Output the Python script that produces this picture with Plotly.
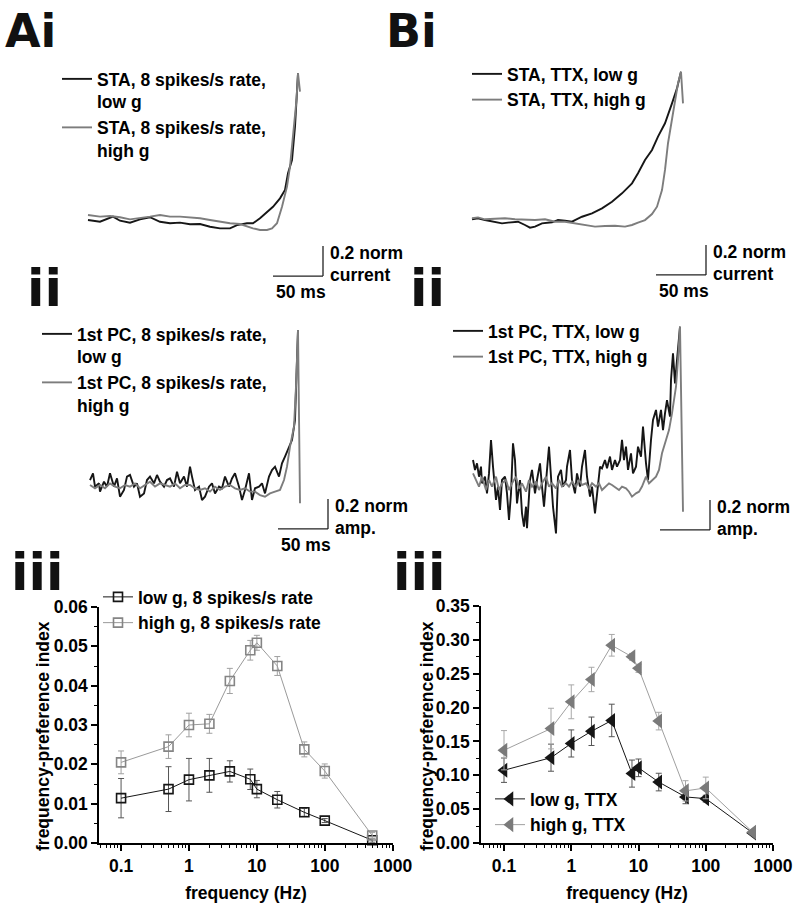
import plotly.graph_objects as go

W, H = 800, 906

# ---------------- data: spike-triggered averages (time in ms rel. to spike, amplitude in norm units)
AI_T_LOW = [-210, -198, -185, -178, -168, -158, -148, -138, -128, -118, -108, -98, -88, -78, -68, -61, -51, -45, -38, -31, -25, -18, -13, -10, -6, -3, 0]
AI_V_LOW = [-0.013, -0.025, 0.009, -0.018, -0.031, -0.009, 0.005, -0.025, -0.035, -0.031, -0.042, -0.04, -0.058, -0.069, -0.069, -0.047, -0.035, -0.035, -0.002, 0.042, 0.075, 0.131, 0.187, 0.298, 0.387, 0.609, 0.964]
AI_T_HIGH = [-210, -198, -188, -178, -168, -158, -148, -138, -128, -118, -108, -98, -88, -78, -68, -58, -51, -45, -38, -31, -26, -21, -16, -11, -8, -5, -1.5, 0, 2]
AI_V_HIGH = [0.02, 0.009, 0.013, 0.005, -0.009, -0.002, 0.009, 0.02, 0.009, 0.009, 0.005, -0.002, -0.013, -0.025, -0.035, -0.04, -0.058, -0.069, -0.08, -0.08, -0.069, -0.035, 0.075, 0.209, 0.342, 0.542, 0.787, 0.964, 0.842]

BI_T_LOW = [-209, -203, -196, -186, -179, -173, -163, -156, -151, -146, -139, -129, -123, -116, -109, -106, -99, -89, -79, -69, -59, -49, -43, -36, -29, -23, -16, -9, -4, 0]
BI_V_LOW = [-0.002, 0.005, -0.007, -0.018, -0.029, -0.024, -0.018, -0.04, -0.058, -0.051, -0.029, -0.022, -0.007, -0.011, -0.018, -0.007, 0.015, 0.038, 0.071, 0.115, 0.171, 0.238, 0.305, 0.393, 0.46, 0.549, 0.638, 0.771, 0.871, 0.982]
BI_T_HIGH = [-209, -203, -196, -186, -176, -166, -156, -146, -136, -126, -116, -106, -96, -86, -76, -66, -56, -49, -43, -36, -29, -24, -19, -16, -13, -9, -6, -3, 0, 2]
BI_V_HIGH = [0.005, 0.011, -0.002, 0.002, 0.005, -0.002, -0.007, -0.007, -0.002, -0.018, -0.018, -0.029, -0.04, -0.051, -0.047, -0.045, -0.051, -0.04, -0.024, -0.007, 0.033, 0.082, 0.193, 0.327, 0.505, 0.66, 0.793, 0.905, 0.982, 0.771]

# ---------------- data: first principal components
AII_T_LOW = [-208, -205, -203, -199, -198, -194, -191, -188, -184, -181, -178, -174, -171, -168, -164, -161, -158, -154, -151, -148, -144, -141, -138, -134, -131, -128, -124, -121, -118, -114, -111, -108, -106, -103, -99, -96, -93, -89, -86, -83, -79, -76, -73, -69, -66, -63, -59, -56, -53, -49, -46, -43, -39, -36, -33, -29, -26, -23, -19, -16, -13, -9, -6, -3, 0]
AII_V_LOW = [0.033, 0.078, -0.011, 0.011, -0.044, 0.022, -0.011, 0.078, -0.011, 0.044, -0.078, -0.033, 0.056, 0.067, -0.011, 0.011, -0.078, -0.056, 0.033, 0.056, 0.011, 0.067, 0.022, -0.011, 0.033, 0.044, -0.011, 0.089, 0.011, 0.056, -0.011, 0.122, 0.056, -0.033, -0.011, -0.1, -0.078, -0.011, 0.011, -0.056, -0.011, -0.022, 0.056, -0.011, 0.044, 0.078, -0.011, -0.1, -0.033, 0.078, -0.1, -0.022, -0.011, 0.011, -0.056, 0.056, 0.1, 0.122, 0.056, 0.144, 0.189, 0.256, 0.3, 0.433, 1.033]
AII_T_HIGH = [-208, -203, -198, -193, -188, -183, -178, -173, -168, -163, -158, -153, -148, -143, -138, -133, -128, -123, -118, -113, -108, -103, -98, -93, -88, -83, -78, -73, -68, -63, -58, -53, -48, -43, -38, -33, -28, -23, -18, -14, -11, -8, -4, -2, 0, 2]
AII_V_HIGH = [0.0, -0.022, 0.0, -0.022, 0.011, -0.011, -0.022, 0.0, -0.011, 0.011, -0.022, 0.0, 0.022, -0.011, 0.011, 0.0, -0.011, 0.011, -0.022, 0.0, 0.0, -0.022, -0.033, -0.022, -0.044, -0.011, -0.033, -0.011, 0.0, -0.022, -0.033, -0.022, -0.044, -0.044, -0.067, -0.078, -0.056, -0.044, -0.033, 0.033, 0.122, 0.256, 0.389, 0.656, 1.033, -0.122]

BII_T_LOW = [-207, -205, -203, -201, -199, -198, -195, -193, -191, -189, -187, -184, -182, -180, -178, -175, -173, -171, -169, -167, -165, -163, -160, -158, -156, -154, -153, -150, -148, -145, -143, -140, -138, -136, -133, -131, -129, -127, -124, -122, -119, -117, -114, -113, -110, -108, -105, -103, -100, -98, -95, -93, -90, -88, -85, -83, -80, -78, -75, -73, -70, -68, -65, -63, -60, -58, -56, -54, -52, -49, -47, -44, -42, -39, -37, -34, -32, -29, -27, -24, -22, -19, -17, -15, -13, -10, -9, -7, -5, -3, 0]
BII_V_LOW = [0.153, 0.087, 0.131, 0.042, 0.109, -0.002, 0.042, -0.069, 0.064, 0.287, 0.109, -0.113, -0.024, -0.18, 0.02, 0.042, -0.069, -0.247, -0.069, 0.264, 0.153, -0.136, 0.02, -0.202, -0.291, -0.158, -0.302, 0.02, 0.087, -0.069, 0.02, 0.131, -0.024, -0.158, 0.087, 0.242, 0.042, -0.158, -0.336, 0.042, 0.087, -0.024, 0.02, 0.109, 0.22, 0.02, -0.069, 0.064, -0.024, 0.109, 0.22, 0.042, -0.091, -0.024, -0.202, -0.069, 0.109, 0.098, 0.153, 0.098, 0.176, 0.087, 0.153, 0.109, 0.153, 0.287, 0.153, 0.242, 0.087, 0.198, 0.064, 0.109, 0.242, 0.176, 0.376, 0.131, 0.02, 0.287, 0.42, 0.487, 0.376, 0.487, 0.353, 0.464, 0.553, 0.442, 0.687, 0.864, 0.664, 0.82, 1.042]
BII_T_HIGH = [-207, -204, -201, -198, -194, -191, -188, -184, -181, -178, -174, -171, -168, -164, -161, -158, -154, -151, -148, -144, -141, -138, -134, -131, -128, -124, -121, -118, -114, -111, -108, -104, -101, -98, -94, -91, -88, -84, -81, -78, -74, -71, -68, -64, -61, -58, -54, -51, -48, -44, -41, -38, -34, -31, -28, -24, -21, -18, -14, -11, -8, -4, -2, 0, 3]
BII_V_HIGH = [0.064, 0.02, -0.024, 0.042, -0.047, 0.02, -0.024, 0.042, -0.047, -0.002, 0.02, -0.047, -0.002, 0.042, -0.036, -0.002, -0.058, 0.02, -0.024, 0.009, -0.047, -0.002, 0.042, -0.024, -0.002, -0.036, 0.02, -0.024, -0.002, -0.024, 0.009, -0.024, 0.02, -0.013, -0.002, -0.036, -0.002, -0.024, -0.002, -0.047, -0.024, -0.002, -0.013, -0.036, -0.047, -0.024, -0.036, -0.058, -0.091, -0.069, -0.058, -0.024, 0.042, -0.002, 0.02, 0.042, 0.087, 0.198, 0.287, 0.353, 0.464, 0.642, 0.82, 1.042, -0.191]

# ---------------- data: frequency-preference index
FREQ = [0.1, 0.5, 1, 2, 4, 8, 10, 20, 50, 100, 500]
A_LOW = [0.0114, 0.0137, 0.0161, 0.0172, 0.0182, 0.0162, 0.0137, 0.0110, 0.0078, 0.0057, 0.0007]
A_LOW_ERR = [0.0050, 0.0057, 0.0054, 0.0043, 0.0027, 0.0026, 0.0022, 0.0021, 0.0010, 0.0005, 0.0005]
A_HIGH = [0.0205, 0.0245, 0.0300, 0.0303, 0.0412, 0.0490, 0.0509, 0.0450, 0.0238, 0.0183, 0.0019]
A_HIGH_ERR = [0.0029, 0.0030, 0.0030, 0.0024, 0.0032, 0.0025, 0.0019, 0.0024, 0.0019, 0.0018, 0.0008]
B_LOW = [0.1075, 0.126, 0.147, 0.165, 0.181, 0.1025, 0.111, 0.090, 0.068, 0.0655, 0.0148]
B_LOW_ERR = [0.018, 0.020, 0.020, 0.021, 0.024, 0.020, 0.013, 0.013, 0.010, 0.005, 0.002]
B_HIGH = [0.137, 0.169, 0.2085, 0.2415, 0.292, 0.275, 0.258, 0.180, 0.077, 0.0813, 0.016]
B_HIGH_ERR = [0.029, 0.030, 0.025, 0.018, 0.016, 0.005, 0.006, 0.013, 0.015, 0.016, 0.002]
FREQ_TICKS = [0.1, 1, 10, 100, 1000]
FREQ_TICKTEXT = ["0.1", "1", "10", "100", "1000"]

SCALE_MS = 50
SCALE_NORM = 0.2

# ---------------- styling
BLACK = "#161616"
GRAY = "#7d7d7d"
FONT = "Liberation Sans, Arial, Helvetica, sans-serif"
HEAVY = "DejaVu Sans, Liberation Sans, sans-serif"
FS = 17.5

fig = go.Figure()


def trace_axes(box, origin, px_ms=1.0, px_unit=150.0):
    x0, x1, y0, y1 = box
    ox, oy = origin
    xa = dict(domain=[x0 / W, x1 / W], range=[(x0 - ox) / px_ms, (x1 - ox) / px_ms],
              visible=False, fixedrange=True, automargin=False)
    ya = dict(domain=[1 - y1 / H, 1 - y0 / H], range=[(oy - y1) / px_unit, (oy - y0) / px_unit],
              visible=False, fixedrange=True, automargin=False)
    return xa, ya


def leg(xpx, ypx):
    return dict(x=xpx / W, y=1 - ypx / H, xanchor="left", yanchor="top",
                bgcolor="rgba(0,0,0,0)", borderwidth=0, valign="top",
                tracegroupgap=0, font=dict(size=FS, family=FONT, color="black", weight="bold"))


layout = dict(
    width=W, height=H, margin=dict(l=0, r=0, t=0, b=0, pad=0, autoexpand=False),
    paper_bgcolor="white", plot_bgcolor="rgba(0,0,0,0)",
    font=dict(family=FONT, size=FS, color="black", weight="bold"),
    showlegend=True,
)

# trace panels (axes 1-4)
panels = [
    ("1", (60, 380, 55, 300), (298, 218)),
    ("2", (440, 780, 55, 300), (681, 219)),
    ("3", (40, 380, 310, 545), (298, 485)),
    ("4", (440, 780, 310, 545), (680, 483)),
]
for k, box, org in panels:
    xa, ya = trace_axes(box, org)
    sx = "" if k == "1" else k
    xa["anchor"] = "y" + sx
    ya["anchor"] = "x" + sx
    layout["xaxis" + sx] = xa
    layout["yaxis" + sx] = ya

trace_sets = [
    ("1", "legend", AI_T_LOW, AI_V_LOW, "STA, 8 spikes/s rate,<br>low g", BLACK),
    ("1", "legend", AI_T_HIGH, AI_V_HIGH, "STA, 8 spikes/s rate,<br>high g", GRAY),
    ("2", "legend2", BI_T_LOW, BI_V_LOW, "STA, TTX, low g", BLACK),
    ("2", "legend2", BI_T_HIGH, BI_V_HIGH, "STA, TTX, high g", GRAY),
    ("3", "legend3", AII_T_LOW, AII_V_LOW, "1st PC, 8 spikes/s rate,<br>low g", BLACK),
    ("3", "legend3", AII_T_HIGH, AII_V_HIGH, "1st PC, 8 spikes/s rate,<br>high g", GRAY),
    ("4", "legend4", BII_T_LOW, BII_V_LOW, "1st PC, TTX, low g", BLACK),
    ("4", "legend4", BII_T_HIGH, BII_V_HIGH, "1st PC, TTX, high g", GRAY),
]
for k, lg, t, v, name, col in trace_sets:
    sx = "" if k == "1" else k
    fig.add_trace(go.Scatter(x=t, y=v, mode="lines", name=name, legend=lg,
                             line=dict(color=col, width=1.9),
                             xaxis="x" + sx, yaxis="y" + sx, hoverinfo="skip"))

# scale bars
shapes = []
annotations = []
scale_bars = [
    ("1", 25, -0.387, "current"),
    ("2", 25, -0.373, "current"),
    ("3", 30, -0.293, "amp."),
    ("4", 30, -0.313, "amp."),
]
for k, ct, cv, lab in scale_bars:
    sx = "" if k == "1" else k
    xr, yr = "x" + sx, "y" + sx
    ln = dict(color="#222222", width=1.3)
    shapes.append(dict(type="line", xref=xr, yref=yr, x0=ct - SCALE_MS, x1=ct, y0=cv, y1=cv, line=ln))
    shapes.append(dict(type="line", xref=xr, yref=yr, x0=ct, x1=ct, y0=cv, y1=cv + SCALE_NORM, line=ln))
    annotations.append(dict(xref=xr, yref=yr, x=ct + 5, y=cv + 23 / 150, text=f"{SCALE_NORM} norm",
                            showarrow=False, xanchor="left", yanchor="middle"))
    annotations.append(dict(xref=xr, yref=yr, x=ct + 5, y=cv + 1 / 150, text=lab,
                            showarrow=False, xanchor="left", yanchor="middle"))
    annotations.append(dict(xref=xr, yref=yr, x=ct - SCALE_MS + 1, y=cv - 16 / 150, text=f"{SCALE_MS} ms",
                            showarrow=False, xanchor="left", yanchor="middle"))

# frequency-preference panels (axes 5, 6)
minor_x = [m * 10 ** e for e in range(-2, 3) for m in range(2, 10)]
minor_x = [v for v in minor_x if 0.045 < v < 1000]


def freq_xaxis(x0, x1, rng, anchor):
    return dict(type="log", domain=[x0 / W, x1 / W], range=rng, anchor=anchor,
                showline=True, linecolor="black", linewidth=1.5, mirror=False,
                ticks="outside", ticklen=6, tickwidth=1.5, tickcolor="black",
                tickmode="array", tickvals=FREQ_TICKS, ticktext=FREQ_TICKTEXT,
                minor=dict(ticks="outside", ticklen=3, tickwidth=1, tickcolor="black",
                           tickmode="array", tickvals=minor_x, showgrid=False),
                showgrid=False, zeroline=False, fixedrange=True, automargin=False,
                tickfont=dict(size=FS),
                title=dict(text="frequency (Hz)", font=dict(size=FS), standoff=12))


def freq_yaxis(y0, y1, top, dt, anchor):
    return dict(domain=[1 - y1 / H, 1 - y0 / H], range=[0, top], anchor=anchor,
                showline=True, linecolor="black", linewidth=1.5, mirror=False,
                ticks="outside", ticklen=6, tickwidth=1.5, tickcolor="black",
                tick0=0, dtick=dt, tickformat=".2f",
                minor=dict(ticks="outside", ticklen=3, tickwidth=1, tickcolor="black",
                           dtick=dt / 2, tick0=0, showgrid=False),
                showgrid=False, zeroline=False, fixedrange=True, automargin=False,
                tickfont=dict(size=FS))


layout["xaxis5"] = freq_xaxis(99, 393, [-1.325, 3.005], "y5")
layout["yaxis5"] = freq_yaxis(607, 843, 0.06, 0.01, "x5")
layout["xaxis6"] = freq_xaxis(481, 773, [-1.342, 3.0], "y6")
layout["yaxis6"] = freq_yaxis(606, 843, 0.35, 0.05, "x6")

# y-axis titles
for xpx in (43, 427):
    annotations.append(dict(xref="paper", yref="paper", x=xpx / W, y=1 - 736 / H,
                            text="frequency-preference index", textangle=-90,
                            showarrow=False, xanchor="center", yanchor="middle",
                            font=dict(size=FS)))

fig.add_trace(go.Scatter(
    x=FREQ, y=A_LOW, name="low g, 8 spikes/s rate", legend="legend5",
    mode="lines+markers", xaxis="x5", yaxis="y5", cliponaxis=False,
    line=dict(color=BLACK, width=1),
    marker=dict(symbol="square-open", size=9, color=BLACK, line=dict(width=1.6, color=BLACK)),
    error_y=dict(type="data", array=A_LOW_ERR, color="#555555", thickness=1, width=3)))
fig.add_trace(go.Scatter(
    x=FREQ, y=A_HIGH, name="high g, 8 spikes/s rate", legend="legend5",
    mode="lines+markers", xaxis="x5", yaxis="y5", cliponaxis=False,
    line=dict(color="#9a9a9a", width=1),
    marker=dict(symbol="square-open", size=9, color="#858585", line=dict(width=1.6, color="#858585")),
    error_y=dict(type="data", array=A_HIGH_ERR, color="#a0a0a0", thickness=1, width=3)))
fig.add_trace(go.Scatter(
    x=FREQ, y=B_LOW, name="low g, TTX", legend="legend6",
    mode="lines+markers", xaxis="x6", yaxis="y6", cliponaxis=False,
    line=dict(color=BLACK, width=1),
    marker=dict(symbol="triangle-left", size=13, color=BLACK),
    error_y=dict(type="data", array=B_LOW_ERR, color="#555555", thickness=1, width=3)))
fig.add_trace(go.Scatter(
    x=FREQ, y=B_HIGH, name="high g, TTX", legend="legend6",
    mode="lines+markers", xaxis="x6", yaxis="y6", cliponaxis=False,
    line=dict(color="#a0a0a0", width=1),
    marker=dict(symbol="triangle-left", size=13, color="#7a7a7a"),
    error_y=dict(type="data", array=B_HIGH_ERR, color="#a8a8a8", thickness=1, width=3)))

# legends
layout["legend"] = leg(57, 61)
layout["legend2"] = leg(467, 56)
layout["legend3"] = leg(37, 316)
layout["legend4"] = leg(448, 313)
layout["legend5"] = leg(98, 579)
layout["legend6"] = leg(490, 781)


# panel letters
def letter(text, xpx, ypx, anchor, size):
    return dict(xref="paper", yref="paper", x=xpx / W, y=1 - ypx / H, text=text,
                showarrow=False, xanchor=anchor, yanchor="middle",
                font=dict(size=size, family=HEAVY, color="#111111", weight="bold"))


annotations += [
    letter("Ai", 3, 31, "left", 46),
    letter("Bi", 384, 31, "left", 46),
    letter("ii", 64, 289, "right", 51),
    letter("ii", 447, 289, "right", 51),
    letter("iii", 65, 572, "right", 51),
    letter("iii", 447, 572, "right", 51),
]

layout["shapes"] = shapes
layout["annotations"] = annotations
fig.update_layout(**layout)
fig.write_html(
    "out.html",
    config={"displayModeBar": False},
    post_script="document.documentElement.style.margin='0';document.body.style.margin='0';"
                "document.body.style.overflow='hidden';",
)
